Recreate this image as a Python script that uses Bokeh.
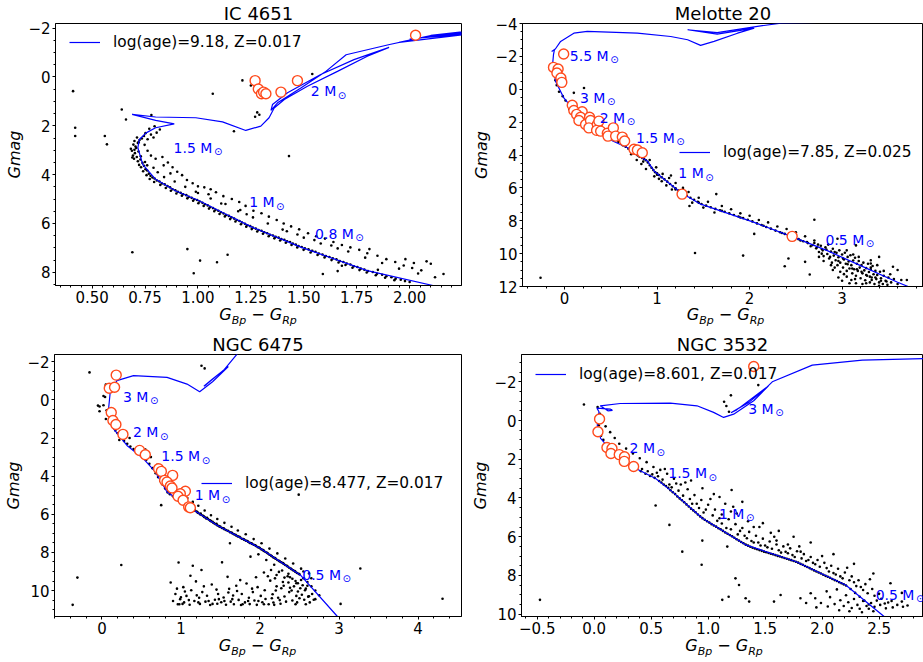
from bokeh.plotting import figure
from bokeh.models import (Range1d, FixedTicker, Legend, LegendItem, Div,
                          ColumnDataSource, CustomJSTickFormatter)
from bokeh.layouts import row, column
from bokeh.embed import file_html
from bokeh.resources import INLINE
from bokeh.core.properties import value

FONT = "DejaVu Sans"

# ------------------------------------------------------------------ IC 4651
ic4651_title = "IC 4651"
ic4651_legend = "log(age)=9.18, Z=0.017"
ic4651_xticks = [0.50, 0.75, 1.00, 1.25, 1.50, 1.75, 2.00]
ic4651_yticks = [-2, 0, 2, 4, 6, 8]
ic4651_iso = [(2.16, 8.70), (2.11, 8.54), (1.80, 7.93), (1.486, 6.97), (1.258, 6.16), (1.116, 5.55),
              (1.006, 5.07), (0.896, 4.67), (0.80, 4.19), (0.739, 3.58), (0.716, 2.90), (0.723, 2.56),
              (0.755, 2.29), (0.80, 2.08), (0.888, 1.92), (0.80, 1.78), (0.689, 1.53), (0.80, 1.64),
              (0.99, 1.67), (1.116, 1.84), (1.226, 2.19), (1.297, 2.01), (1.336, 1.67), (1.36, 1.27),
              (1.408, 0.92), (1.517, 0.38), (1.659, -0.23), (1.80, -0.85), (1.903, -1.21), (1.737, -0.71),
              (1.58, -0.10), (1.423, 0.65), (1.352, 1.13), (1.345, 1.37), (1.376, 1.06), (1.486, 0.45),
              (1.60, -0.20), (1.70, -0.91), (1.90, -1.32), (2.05, -1.60), (2.30, -1.78), (1.95, -1.42),
              (2.10, -1.70), (2.30, -1.90), (2.00, -1.55), (2.30, -1.84)]
ic4651_red = [(1.270, 0.15), (1.285, 0.49), (1.300, 0.69), (1.310, 0.62), (1.321, 0.69),
              (1.392, 0.62), (1.470, 0.15), (2.028, -1.71)]
ic4651_mass = [("2 M", 1.533, 0.58), ("1.5 M", 0.885, 2.90), ("1 M", 1.242, 5.14), ("0.8 M", 1.553, 6.43)]
ic4651_stars = [
    (0.700, 2.62), (0.712, 2.48), (0.695, 2.77), (0.708, 2.91), (0.688, 3.02), (0.702, 3.12), (0.716, 2.70),
    (0.724, 2.58), (0.693, 3.22), (0.711, 3.28), (0.705, 2.85), (0.719, 3.05), (0.728, 3.38), (0.716, 3.45),
    (0.735, 2.52), (0.683, 2.94), (0.698, 3.35), (0.722, 3.60), (0.738, 3.52), (0.731, 3.70), (0.745, 3.64),
    (0.752, 3.78), (0.741, 3.86), (0.760, 3.83), (0.768, 3.96), (0.757, 4.02), (0.776, 4.05), (0.785, 4.12),
    (0.772, 4.18), (0.795, 4.16), (0.806, 4.24), (0.793, 4.30), (0.818, 4.28), (0.830, 4.36), (0.822, 4.42),
    (0.843, 4.40), (0.856, 4.47), (0.848, 4.55), (0.868, 4.52), (0.880, 4.60), (0.872, 4.66), (0.893, 4.64),
    (0.905, 4.70), (0.898, 4.77), (0.918, 4.74), (0.930, 4.80), (0.924, 4.86), (0.945, 4.84), (0.957, 4.91),
    (0.950, 4.97), (0.970, 4.95), (0.983, 5.01), (0.977, 5.07), (0.996, 5.04), (1.008, 5.10), (1.002, 5.17),
    (1.021, 5.15), (1.033, 5.21), (1.027, 5.28), (1.046, 5.26), (1.058, 5.33), (1.052, 5.39), (1.071, 5.37),
    (1.083, 5.44), (1.077, 5.50), (1.096, 5.48), (1.108, 5.54), (1.102, 5.61), (1.121, 5.59), (1.133, 5.65),
    (1.127, 5.71), (1.146, 5.69), (1.158, 5.75), (1.152, 5.82), (1.171, 5.80), (1.183, 5.86), (1.177, 5.92),
    (1.196, 5.90), (1.208, 5.96), (1.203, 6.03), (1.222, 6.01), (1.234, 6.07), (1.228, 6.13), (1.247, 6.11),
    (1.259, 6.17), (1.254, 6.23), (1.273, 6.21), (1.286, 6.27), (1.280, 6.33), (1.300, 6.30), (1.313, 6.36),
    (1.307, 6.42), (1.327, 6.40), (1.340, 6.46), (1.334, 6.52), (1.354, 6.49), (1.367, 6.55), (1.361, 6.61),
    (1.381, 6.58), (1.394, 6.64), (1.388, 6.70), (1.408, 6.67), (1.421, 6.73), (1.415, 6.79), (1.435, 6.76),
    (1.448, 6.82), (1.442, 6.88), (1.462, 6.86), (1.475, 6.92), (1.469, 6.98), (1.490, 6.96), (1.505, 7.02),
    (1.499, 7.08), (1.522, 7.06), (1.538, 7.13), (1.532, 7.19), (1.555, 7.16), (1.571, 7.23), (1.565, 7.29),
    (1.588, 7.27), (1.604, 7.33), (1.598, 7.39), (1.621, 7.37), (1.637, 7.43), (1.631, 7.50), (1.654, 7.47),
    (1.670, 7.54), (1.664, 7.60), (1.687, 7.58), (1.703, 7.64), (1.697, 7.70), (1.720, 7.68), (1.736, 7.75),
    (1.730, 7.81), (1.753, 7.78), (1.769, 7.85), (1.763, 7.91), (1.786, 7.89), (1.803, 7.95), (1.797, 8.01),
    (1.826, 7.99), (1.846, 8.06), (1.840, 8.12), (1.870, 8.10), (1.890, 8.16), (1.884, 8.22), (1.914, 8.20),
    (1.934, 8.26), (1.928, 8.32), (1.958, 8.30), (1.978, 8.36), (2.000, 8.40),
    (0.745, 2.42), (0.762, 2.55), (0.778, 2.36), (0.790, 2.48), (0.805, 2.28), (0.820, 2.15), (0.795, 2.02),
    (0.770, 2.12), (0.752, 2.30), (0.748, 2.78), (0.762, 3.02), (0.778, 3.22), (0.800, 3.35), (0.832, 3.28),
    (0.858, 3.50), (0.838, 3.62), (0.880, 3.70), (0.902, 3.88), (0.870, 3.95), (0.925, 4.02), (0.948, 4.22),
    (0.975, 4.35), (1.000, 4.48), (1.030, 4.52), (1.060, 4.60), (1.085, 4.72), (1.050, 4.80), (1.120, 4.88),
    (1.160, 5.00), (1.195, 5.12), (1.225, 5.28), (1.200, 5.45), (1.262, 5.48), (1.300, 5.58), (1.335, 5.72),
    (1.372, 5.86), (1.405, 6.00), (1.440, 6.12), (1.478, 6.24), (1.520, 6.40), (1.558, 6.52), (1.600, 6.62),
    (1.640, 6.76), (1.680, 6.88), (1.720, 6.98), (1.762, 7.08), (1.800, 7.22), (1.848, 7.32), (1.890, 7.46),
    (1.932, 7.58), (1.972, 7.72), (2.012, 7.82), (2.055, 7.92), (1.420, 6.32), (1.500, 6.58), (1.580, 6.82),
    (1.660, 7.02), (1.230, 5.62), (1.110, 5.18), (0.990, 4.70),
    (0.72, 2.68), (0.70, 2.98), (0.69, 3.30), (0.73, 3.25), (0.75, 3.48), (0.76, 3.62), (0.79, 3.72),
    (0.81, 3.90), (0.84, 4.10), (0.89, 4.28), (0.94, 4.50), (1.00, 4.75), (1.06, 4.98), (1.13, 5.20),
    (1.19, 5.50), (1.26, 5.75), (1.33, 6.00), (1.40, 6.25), (1.47, 6.45), (1.55, 6.68), (1.63, 6.90),
    (1.71, 7.15), (1.79, 7.40), (1.87, 7.62), (1.95, 7.85), (2.04, 8.05), (2.12, 8.20),
    (0.41, 0.58), (0.42, 2.08), (0.42, 2.42), (0.56, 2.42), (0.57, 2.76), (0.64, 1.33), (0.66, 1.74),
    (0.69, 7.18), (0.95, 7.05), (0.98, 8.04), (1.01, 7.52), (1.09, 7.59), (1.14, 7.28), (1.17, 2.22),
    (1.21, 0.14), (1.27, 1.63), (1.29, 1.55), (1.43, 3.24), (1.54, -0.12), (1.54, 7.12), (1.59, 8.07),
    (1.68, 7.73), (1.66, 7.95), (1.81, 7.05), (1.85, 7.90), (1.98, 7.46), (2.02, 7.62), (2.08, 7.55),
    (2.10, 7.65), (2.16, 8.07), (1.07, 0.69), (0.78, 1.56), (1.25, 0.35), (1.28, 1.45),
]

# ------------------------------------------------------------------ Melotte 20
mel20_title = "Melotte 20"
mel20_legend = "log(age)=7.85, Z=0.025"
mel20_xticks = [0, 1, 2, 3]
mel20_yticks = [-4, -2, 0, 2, 4, 6, 8, 10, 12]
mel20_iso = [(3.80, 12.2), (3.60, 11.74), (3.20, 10.73), (2.84, 9.82), (2.48, 9.01), (2.05, 8.10),
             (1.472, 6.99), (1.255, 6.28), (0.966, 4.97), (0.895, 4.36), (0.77, 3.96), (0.68, 3.56),
             (0.52, 3.15), (0.30, 2.20), (0.065, 1.03), (-0.008, 0.53), (-0.097, -0.48), (-0.13, -1.50),
             (-0.12, -2.10), (-0.11, -2.40), (-0.14, -2.30), (-0.10, -2.45), (-0.043, -2.91), (0.10, -3.41),
             (0.245, -3.52), (0.787, -3.41), (1.147, -3.21), (1.33, -3.01), (1.47, -2.67), (1.616, -2.91),
             (1.87, -3.41), (2.05, -3.72), (1.65, -3.35), (1.33, -3.62), (1.65, -3.45), (2.05, -3.80),
             (2.34, -4.02), (3.0, -4.10)]
mel20_red = [(-0.01, -2.14), (-0.12, -1.33), (-0.07, -1.23), (-0.083, -0.99), (-0.04, -0.68), (-0.03, -0.42),
             (0.083, 0.97), (0.10, 1.29), (0.19, 1.37), (0.13, 1.53), (0.173, 1.70), (0.27, 1.70),
             (0.155, 1.90), (0.227, 2.14), (0.28, 1.90), (0.263, 2.35), (0.354, 2.14), (0.371, 1.94),
             (0.346, 2.50), (0.39, 2.55), (0.462, 2.68), (0.527, 2.35), (0.469, 2.85), (0.552, 2.85),
             (0.624, 2.91), (0.649, 3.15), (0.75, 3.65), (0.787, 3.70), (0.84, 3.86), (1.27, 6.38),
             (2.46, 8.95)]
mel20_mass = [("5.5 M", 0.057, -2.04), ("3 M", 0.166, 0.53), ("2 M", 0.38, 1.74),
              ("1.5 M", 0.772, 2.95), ("1 M", 1.23, 5.11), ("0.5 M", 2.82, 9.17)]
mel20_stars = [
    (-0.10, -0.55), (-0.085, -0.25), (-0.06, 0.15), (-0.02, 0.42), (0.01, 0.68), (0.04, 0.88), (0.10, 0.22),
    (0.21, -0.08), (0.05, 1.22), (0.09, 1.45), (0.30, 1.55), (0.45, 2.45), (0.40, 2.75), (0.58, 3.20),
    (0.62, 3.30), (0.63, 3.40), (0.66, 3.50), (0.69, 3.62), (0.71, 3.75), (0.74, 3.85), (0.76, 3.92),
    (0.79, 4.02), (0.81, 4.10), (0.84, 4.18), (0.86, 4.25), (0.88, 4.32), (0.90, 4.45), (0.92, 4.62),
    (0.94, 4.78), (0.96, 4.92), (0.98, 5.05), (1.00, 5.12), (1.02, 5.22), (1.05, 5.35), (1.08, 5.48),
    (1.11, 5.62), (1.14, 5.76), (1.17, 5.90), (1.20, 6.03), (1.23, 6.16), (1.26, 6.30), (1.29, 6.40),
    (1.32, 6.48), (1.36, 6.60), (1.40, 6.72), (1.44, 6.84), (1.48, 6.98), (1.53, 7.08), (1.58, 7.18),
    (1.63, 7.28), (1.68, 7.36), (1.73, 7.46), (1.78, 7.55), (1.83, 7.65), (1.88, 7.74), (1.93, 7.84),
    (1.98, 7.94), (2.03, 8.04), (2.08, 8.16), (2.13, 8.26), (2.18, 8.38), (2.23, 8.48), (2.28, 8.60),
    (2.33, 8.70), (2.38, 8.80), (2.43, 8.92), (2.48, 9.02), (2.53, 9.12), (2.58, 9.25), (2.63, 9.36),
    (2.68, 9.48), (2.73, 9.60), (2.78, 9.72),
    (0.72, 3.95), (0.78, 4.30), (0.83, 4.55), (0.88, 4.85), (0.92, 4.30), (0.99, 4.75), (1.02, 5.45),
    (1.06, 5.15), (1.10, 5.85), (1.13, 5.40), (1.16, 6.10), (1.20, 5.70), (1.25, 6.50), (1.28, 6.00),
    (1.34, 6.25), (1.38, 6.90), (1.45, 6.60), (1.50, 7.20), (1.55, 6.85), (1.62, 7.50), (1.70, 7.10),
    (1.80, 7.30), (1.90, 7.55), (2.00, 7.70), (2.10, 7.95), (2.20, 8.10), (2.30, 8.35), (2.40, 8.50),
    (2.50, 8.70), (2.60, 8.95), (2.70, 9.20), (1.35, 7.10), (1.05, 5.60), (1.15, 5.25), (0.97, 5.30),
    (2.70, 9.35), (2.72, 9.68), (2.75, 9.90), (2.77, 9.52), (2.79, 9.80), (2.80, 10.15), (2.82, 9.62),
    (2.84, 10.02), (2.85, 9.45), (2.86, 10.30), (2.88, 9.88), (2.89, 10.55), (2.90, 9.70), (2.91, 10.12),
    (2.93, 10.40), (2.94, 9.95), (2.95, 10.70), (2.96, 10.22), (2.97, 9.80), (2.98, 10.55), (3.00, 10.05),
    (3.01, 10.85), (3.02, 10.35), (3.03, 9.95), (3.04, 10.62), (3.05, 11.05), (3.06, 10.20), (3.07, 10.48),
    (3.08, 10.90), (3.09, 10.10), (3.10, 10.70), (3.11, 11.20), (3.12, 10.42), (3.13, 10.95), (3.14, 10.25),
    (3.15, 11.35), (3.16, 10.62), (3.17, 11.05), (3.18, 10.45), (3.19, 10.85), (3.20, 11.50), (3.21, 10.70),
    (3.22, 11.20), (3.23, 10.55), (3.24, 11.02), (3.25, 11.62), (3.26, 10.88), (3.27, 11.35), (3.28, 10.62),
    (3.29, 11.12), (3.30, 11.75), (3.31, 10.95), (3.32, 11.45), (3.33, 10.75), (3.34, 11.25), (3.35, 11.85),
    (3.36, 11.05), (3.37, 11.55), (3.38, 11.30), (3.40, 11.75), (3.41, 11.10), (3.42, 11.50), (3.44, 11.85),
    (3.45, 11.35), (3.47, 11.65), (3.49, 11.90), (3.50, 11.45), (3.53, 11.75), (3.56, 11.55), (3.60, 11.85),
    (3.64, 11.60), (3.05, 9.80), (3.12, 10.05), (3.18, 10.20), (3.31, 10.40), (3.31, 10.60), (3.31, 10.85),
    (3.32, 11.60), (2.92, 10.85), (2.98, 11.10), (3.05, 11.40), (3.10, 11.60), (2.88, 10.70), (3.00, 11.65),
    (3.15, 11.80), (3.22, 11.85), (2.80, 10.45), (2.75, 10.20), (3.45, 11.05), (3.52, 11.25), (3.38, 10.70),
    (2.45, 8.95), (2.55, 9.20), (2.62, 9.30), (2.66, 9.55), (2.74, 9.45), (2.78, 10.00), (2.83, 9.75),
    (2.87, 10.20), (2.92, 9.90), (2.96, 10.45), (3.01, 10.30), (3.06, 10.65), (3.11, 10.90), (3.16, 10.95),
    (3.21, 11.10), (3.26, 11.30), (3.30, 11.40), (3.36, 11.45), (3.42, 11.65), (3.48, 11.70), (3.02, 11.25),
    (3.14, 11.55), (3.26, 11.80), (3.40, 11.95), (2.90, 11.00), (2.96, 11.45), (3.08, 11.80), (1.90, 7.80),
    (2.15, 8.30), (2.35, 8.75), (1.20, 6.10), (1.00, 5.20), (0.85, 4.40), (1.45, 6.90), (1.70, 7.40),
    (-0.26, 11.47), (1.41, 9.96), (1.93, 10.12), (2.38, 10.77), (2.65, 11.27), (2.70, 7.94), (1.64, 6.38),
    (2.42, 10.30), (3.60, 11.00), (3.70, 11.60), (3.55, 10.80), (3.15, 9.50), (3.40, 10.20), (2.95, 9.10),
    (2.05, 8.80), (2.60, 10.50),
]

# ------------------------------------------------------------------ NGC 6475
n6475_title = "NGC 6475"
n6475_legend = "log(age)=8.477, Z=0.017"
n6475_xticks = [0, 1, 2, 3, 4]
n6475_yticks = [-2, 0, 2, 4, 6, 8, 10]
n6475_iso = [(3.05, 11.6), (2.98, 11.36), (2.51, 9.18), (2.006, 7.79), (1.457, 6.57), (1.161, 5.78),
             (0.824, 4.83), (0.676, 3.78), (0.527, 3.09), (0.317, 2.39), (0.147, 1.52), (0.084, 0.48),
             (0.105, -0.40), (0.19, -1.01), (0.40, -1.27), (0.824, -1.18), (1.077, -0.83), (1.237, -0.43),
             (1.40, -0.95), (1.60, -1.75), (1.40, -1.10), (1.29, -0.72), (1.32, -0.80), (1.55, -1.60),
             (1.72, -2.45)]
n6475_red = [(0.181, -1.30), (0.093, -0.61), (0.16, -0.66), (0.118, 0.66), (0.139, 1.08), (0.177, 1.29),
             (0.266, 1.81), (0.477, 2.65), (0.549, 2.88), (0.717, 3.61), (0.752, 3.75), (0.895, 3.96),
             (0.793, 4.22), (0.824, 4.31), (0.866, 4.52), (0.887, 4.62), (1.056, 4.79), (0.992, 4.92),
             (0.963, 5.05), (1.027, 5.26), (1.098, 5.61), (1.119, 5.66)]
n6475_mass = [("3 M", 0.266, -0.17), ("2 M", 0.393, 1.69), ("1.5 M", 0.752, 2.95),
              ("1 M", 1.174, 5.0), ("0.5 M", 2.535, 9.18)]
n6475_stars = [
    (0.05, -0.75), (0.07, -0.45), (0.04, -0.15), (0.02, 0.28), (-0.03, 0.35), (0.06, 0.55), (0.09, 0.85),
    (0.11, 1.12), (0.14, 1.38), (0.17, 1.60), (0.20, 1.75), (0.24, 1.95), (0.28, 2.15), (0.32, 2.30),
    (0.36, 2.45), (0.40, 2.58), (0.44, 2.72), (0.48, 2.85), (0.52, 3.00), (0.56, 3.15), (0.60, 3.35),
    (0.64, 3.58), (0.68, 3.85), (0.71, 4.05), (0.74, 4.25), (0.77, 4.45), (0.80, 4.65), (0.83, 4.85),
    (0.86, 4.95), (0.90, 5.05), (0.94, 5.15), (0.98, 5.28), (1.02, 5.40), (1.06, 5.50), (1.10, 5.62),
    (1.14, 5.72), (1.18, 5.82), (1.22, 5.93), (1.26, 6.04), (1.30, 6.15), (1.34, 6.25), (1.38, 6.36),
    (1.42, 6.47), (1.46, 6.58), (1.50, 6.66), (1.55, 6.78), (1.60, 6.88), (1.65, 7.00), (1.70, 7.11),
    (1.75, 7.22), (1.80, 7.33), (1.85, 7.44), (1.90, 7.55), (1.95, 7.66), (2.00, 7.78), (2.05, 7.92),
    (2.10, 8.06), (2.15, 8.20), (2.20, 8.33), (2.25, 8.47), (2.30, 8.60), (2.35, 8.74), (2.40, 8.88),
    (2.45, 9.02), (2.50, 9.15), (2.55, 9.35), (2.60, 9.55), (2.65, 9.78), (2.70, 10.00),
    (1.12, 5.68), (1.16, 5.80), (1.20, 5.86), (1.24, 6.00), (1.28, 6.08), (1.32, 6.22), (1.36, 6.30),
    (1.40, 6.40), (1.44, 6.52), (1.48, 6.62), (1.52, 6.72), (1.57, 6.82), (1.62, 6.94), (1.67, 7.05),
    (1.72, 7.16), (1.77, 7.28), (1.82, 7.38), (1.87, 7.50), (1.92, 7.60), (1.97, 7.72), (2.02, 7.84),
    (2.07, 7.98), (2.12, 8.12), (2.17, 8.26), (2.22, 8.40), (2.27, 8.52), (2.32, 8.66), (2.37, 8.80),
    (2.42, 8.94), (2.47, 9.08),
    (1.05, 5.45), (1.09, 5.58), (1.13, 5.64), (1.17, 5.76), (1.21, 5.90), (1.25, 5.96), (1.29, 6.12),
    (1.33, 6.18), (1.37, 6.33), (1.41, 6.44), (1.45, 6.50), (1.49, 6.64), (1.54, 6.74), (1.59, 6.86),
    (1.64, 6.96), (1.69, 7.08), (1.74, 7.18), (1.79, 7.30), (1.84, 7.40), (1.89, 7.52), (1.94, 7.62),
    (1.99, 7.74), (2.04, 7.88), (2.09, 8.02), (2.14, 8.16), (2.19, 8.30), (2.24, 8.44), (2.29, 8.56),
    (2.34, 8.70), (2.39, 8.84), (2.44, 8.98), (2.49, 9.12), (2.28, 8.95), (2.18, 8.65), (2.08, 8.40),
    (1.98, 8.10), (2.38, 9.30), (2.48, 9.62), (2.58, 9.90),
    (0.90, 4.60), (1.00, 4.90), (1.08, 5.15), (1.15, 5.35), (1.22, 5.55), (1.30, 5.80), (1.38, 6.05),
    (1.46, 6.25), (1.55, 6.45), (1.64, 6.65), (1.72, 6.85), (1.82, 7.05), (1.92, 7.30), (2.02, 7.52),
    (2.12, 7.80), (2.22, 8.05), (2.32, 8.32), (2.42, 8.58), (2.52, 8.85), (2.62, 9.10), (2.55, 9.00),
    (2.65, 9.35), (2.45, 9.50), (2.35, 9.25),
    (0.93, 10.18), (0.96, 10.72), (0.99, 10.45), (1.03, 9.82), (1.04, 10.62), (1.07, 10.28), (1.11, 10.74),
    (1.13, 9.98), (1.17, 10.55), (1.19, 9.52), (1.23, 10.38), (1.24, 10.70), (1.27, 10.08), (1.31, 10.58),
    (1.33, 10.27), (1.37, 10.76), (1.39, 9.68), (1.43, 10.48), (1.46, 10.69), (1.47, 10.18), (1.51, 10.61),
    (1.54, 10.36), (1.57, 10.74), (1.61, 9.91), (1.63, 10.58), (1.66, 10.26), (1.67, 10.72), (1.71, 10.02),
    (1.73, 10.49), (1.76, 10.76), (1.77, 10.18), (1.81, 10.62), (1.83, 9.63), (1.86, 10.38), (1.87, 10.71),
    (1.91, 10.08), (1.93, 10.52), (1.96, 10.75), (1.97, 9.82), (2.01, 10.28), (2.03, 10.61), (2.06, 9.98),
    (2.07, 10.44), (2.11, 10.72), (2.13, 9.48), (2.16, 10.19), (2.17, 10.63), (2.21, 9.78), (2.23, 10.38),
    (2.26, 10.69), (2.27, 9.88), (2.31, 10.31), (2.33, 10.58), (2.36, 9.58), (2.37, 10.08), (2.41, 10.52),
    (2.43, 9.78), (2.46, 10.28), (2.47, 10.62), (2.51, 9.88), (2.53, 10.22), (2.56, 10.48), (2.57, 9.98),
    (2.61, 10.32), (2.63, 10.62), (2.66, 10.18), (2.68, 10.48), (2.21, 9.18), (2.31, 9.32), (2.24, 9.02),
    (2.14, 8.92), (2.36, 9.12), (2.41, 9.38), (2.46, 9.62), (2.54, 9.72), (2.29, 9.55), (2.19, 9.36),
    (1.29, 9.78), (1.12, 9.22), (0.87, 9.58), (1.26, 8.92), (1.59, 9.28), (1.52, 8.52), (1.88, 8.22),
    (1.62, 7.52), (2.05, 9.05), (1.95, 9.30), (1.75, 9.45), (1.70, 9.75), (1.45, 9.95), (1.05, 10.05),
    (0.90, 10.55), (2.38, 9.85), (2.52, 9.45), (2.60, 9.75), (2.48, 10.05), (2.70, 10.45), (2.75, 10.25),
    (2.58, 10.72), (2.18, 10.75), (1.98, 10.55), (1.48, 10.45), (1.20, 10.25), (1.02, 10.70),
    (2.40, 10.00), (2.30, 9.75), (2.20, 10.00), (2.10, 9.25), (1.00, 10.35), (1.10, 10.50), (1.22, 10.62),
    (1.35, 10.55), (1.55, 10.55), (1.65, 10.45), (1.85, 10.55), (2.05, 10.72), (2.25, 10.50), (2.45, 10.72),
    (2.62, 10.30), (0.98, 10.72), (1.40, 10.70), (1.78, 10.72), (2.15, 10.40), (2.50, 10.40), (0.95, 9.90),
    (1.60, 10.10), (1.90, 9.90),
    (-0.37, 10.75), (-0.31, 9.32), (0.245, 8.66), (-0.157, -1.44), (1.26, -1.79), (1.30, -1.65),
    (4.31, 10.43), (3.27, 8.84), (3.02, 10.7), (2.49, 4.97), (0.75, 5.52), (0.97, 8.53), (1.15, 8.7),
    (0.05, -0.80), (0.08, -0.60), (0.02, -0.20), (-0.05, 0.30), (-0.03, 0.60), (0.05, 1.00), (0.22, 2.10),
    (0.35, 2.00), (0.20, 1.30), (0.55, 2.60), (0.62, 3.00), (0.70, 3.40), (0.78, 3.70),
]

# ------------------------------------------------------------------ NGC 3532
n3532_title = "NGC 3532"
n3532_legend = "log(age)=8.601, Z=0.017"
n3532_xticks = [-0.5, 0.0, 0.5, 1.0, 1.5, 2.0, 2.5]
n3532_yticks = [-2, 0, 2, 4, 6, 8, 10]
n3532_iso = [(2.60, 10.4), (2.544, 10.12), (2.207, 8.49), (1.768, 7.28), (1.329, 6.42), (0.949, 5.05),
             (0.685, 3.67), (0.539, 2.99), (0.305, 2.30), (0.158, 1.61), (0.056, 0.92), (0.027, 0.23),
             (0.042, -0.45), (0.024, -0.64), (0.141, -0.59), (0.16, -0.52), (0.12, -0.50), (0.053, -0.76),
             (0.229, -0.88), (0.668, -0.90), (0.902, -0.76), (1.048, -0.42), (1.136, -0.16), (1.224, -0.33),
             (1.40, -1.02), (1.53, -1.79), (1.36, -0.95), (1.20, -0.40), (1.25, -0.55), (1.52, -1.75),
             (1.563, -2.0), (1.914, -2.86), (2.353, -3.12), (2.95, -3.21)]
n3532_red = [(1.40, -2.79), (0.047, -0.08), (0.033, 0.58), (0.112, 1.39), (0.156, 1.44), (0.147, 1.70),
             (0.22, 1.76), (0.266, 1.87), (0.264, 2.11), (0.346, 2.37)]
n3532_mass = [("3 M", 1.352, -0.61), ("2 M", 0.31, 1.44), ("1.5 M", 0.65, 2.73),
              ("1 M", 1.095, 4.82), ("0.5 M", 2.47, 9.0)]
n3532_stars = [
    (0.03, -0.70), (0.05, -0.35), (0.02, -0.05), (0.04, 0.25), (0.03, 0.50), (0.06, 0.78), (0.08, 1.00),
    (0.11, 1.22), (0.14, 1.42), (0.17, 1.60), (0.21, 1.78), (0.25, 1.98), (0.29, 2.18), (0.33, 2.35),
    (0.37, 2.48), (0.41, 2.62), (0.45, 2.75), (0.49, 2.86), (0.53, 2.96), (0.57, 3.12), (0.61, 3.30),
    (0.65, 3.48), (0.69, 3.70), (0.73, 3.92), (0.77, 4.12), (0.81, 4.33), (0.85, 4.55), (0.89, 4.74),
    (0.93, 4.95), (0.97, 5.12), (1.01, 5.27), (1.05, 5.42), (1.09, 5.56), (1.13, 5.70), (1.17, 5.85),
    (1.21, 5.98), (1.25, 6.13), (1.29, 6.27), (1.33, 6.41), (1.37, 6.52), (1.41, 6.61), (1.45, 6.69),
    (1.49, 6.77), (1.53, 6.84), (1.57, 6.91), (1.61, 6.99), (1.65, 7.06), (1.69, 7.14), (1.73, 7.21),
    (1.77, 7.29), (1.81, 7.40), (1.85, 7.51), (1.89, 7.62), (1.93, 7.74), (1.97, 7.85), (2.01, 7.96),
    (2.05, 8.07), (2.09, 8.18), (2.13, 8.29), (2.17, 8.40), (2.21, 8.52), (2.25, 8.70), (2.29, 8.90),
    (2.33, 9.10), (2.37, 9.30), (2.41, 9.50),
    (0.59, 3.20), (0.63, 3.38), (0.67, 3.60), (0.71, 3.80), (0.75, 4.02), (0.79, 4.22), (0.83, 4.44),
    (0.87, 4.64), (0.91, 4.85), (0.95, 5.04), (0.99, 5.20), (1.03, 5.35), (1.07, 5.48), (1.11, 5.62),
    (1.15, 5.78), (1.19, 5.91), (1.23, 6.05), (1.27, 6.20), (1.31, 6.34), (1.35, 6.46), (1.39, 6.57),
    (1.43, 6.65), (1.47, 6.73), (1.51, 6.80), (1.55, 6.88), (1.59, 6.95), (1.63, 7.02), (1.67, 7.10),
    (1.71, 7.18), (1.75, 7.25), (1.79, 7.34), (1.83, 7.45), (1.87, 7.56), (1.91, 7.68), (1.95, 7.80),
    (1.99, 7.90), (2.03, 8.02), (2.07, 8.12), (2.11, 8.24), (2.15, 8.35), (2.19, 8.46),
    (0.10, 0.30), (0.14, 0.60), (0.18, 0.90), (0.22, 1.20), (0.28, 1.45), (0.34, 1.70), (0.40, 1.95),
    (0.46, 2.15), (0.52, 2.40), (0.58, 2.55), (0.64, 2.75), (0.70, 3.00), (0.76, 3.30), (0.82, 3.55),
    (0.88, 3.85), (0.94, 4.10), (1.00, 4.35), (1.06, 4.60), (1.12, 4.85), (1.18, 5.10), (1.24, 5.35),
    (1.30, 5.55), (1.36, 5.75), (1.42, 5.95), (1.48, 6.10), (1.54, 6.25), (1.60, 6.40), (1.66, 6.50),
    (1.72, 6.60), (1.78, 6.75), (1.84, 6.90), (1.90, 7.05), (1.96, 7.20), (2.02, 7.35), (2.08, 7.50),
    (2.14, 7.65), (2.20, 7.85), (2.26, 8.05), (2.32, 8.25), (2.38, 8.45), (2.44, 8.70), (2.50, 8.95),
    (0.55, 2.70), (0.72, 3.25), (0.90, 4.30), (1.10, 5.05), (1.32, 5.95), (1.50, 6.45), (1.70, 6.85),
    (1.92, 7.35), (2.12, 7.95), (2.30, 8.55), (0.62, 2.50), (0.80, 3.20), (1.02, 4.05), (1.20, 4.70),
    (1.40, 5.50), (1.58, 6.00), (1.80, 6.50), (2.00, 7.00), (2.22, 7.60), (2.42, 8.20),
    (0.42, 2.50), (0.47, 2.62), (0.51, 2.78), (0.56, 2.88), (0.60, 3.05), (0.66, 3.30), (0.68, 3.45),
    (0.74, 3.62), (0.78, 3.88), (0.84, 4.05), (0.86, 4.30), (0.92, 4.52), (0.96, 4.75), (0.98, 4.60),
    (1.04, 4.90), (1.08, 5.18), (1.12, 5.32), (1.16, 5.55), (1.20, 5.62), (1.26, 5.88), (1.28, 5.70),
    (1.34, 6.08), (1.38, 6.22), (1.44, 6.30), (1.46, 6.45), (1.52, 6.55), (1.56, 6.62), (1.62, 6.70),
    (1.64, 6.82), (1.68, 6.78), (1.74, 6.95), (1.76, 7.05), (1.82, 7.12), (1.86, 7.25), (1.88, 7.20),
    (1.94, 7.42), (1.98, 7.55), (2.04, 7.62), (2.06, 7.80), (2.10, 7.88), (2.16, 8.05), (2.18, 8.15),
    (2.24, 8.25), (2.28, 8.35), (2.34, 8.60), (2.36, 8.75), (2.40, 8.92), (2.46, 9.05), (2.52, 9.20),
    (2.58, 9.40), (1.10, 3.95), (1.22, 4.45), (1.30, 4.20), (1.48, 5.30), (1.62, 5.70), (1.75, 6.00),
    (1.90, 6.30), (2.10, 6.90), (2.28, 7.40), (2.45, 7.90), (2.60, 8.40), (2.70, 8.90), (0.85, 3.10),
    (0.95, 3.50),
    (1.90, 8.92), (1.94, 9.18), (1.99, 9.42), (2.04, 8.82), (2.07, 9.12), (2.11, 9.48), (2.13, 8.72),
    (2.16, 9.28), (2.19, 9.58), (2.21, 9.02), (2.23, 9.38), (2.26, 9.68), (2.28, 9.22), (2.31, 9.52),
    (2.33, 9.72), (2.36, 9.32), (2.39, 9.58), (2.41, 9.72), (2.43, 9.42), (2.46, 9.62), (2.48, 9.30),
    (2.51, 9.52), (2.56, 9.70), (2.61, 9.32), (2.66, 9.52), (2.71, 9.62), (1.86, 9.42), (1.81, 9.18),
    (2.24, 9.85), (2.35, 9.90), (2.45, 9.85), (2.55, 9.45), (2.62, 9.65), (2.70, 9.35), (2.75, 9.55),
    (2.05, 9.60), (2.15, 9.80), (1.95, 9.65),
    (-0.476, 9.26), (-0.09, -0.83), (0.539, 4.39), (0.66, 5.39), (0.949, 6.2), (0.773, 6.77),
    (0.943, 7.45), (1.168, 6.51), (1.206, 3.59), (1.124, 9.26), (1.18, 9.1), (1.271, 8.49), (1.329, 9.18),
    (1.36, 9.35), (1.24, 8.15), (1.578, 9.35), (1.636, 9.01), (1.812, 6.77), (1.14, -0.97), (1.16, -0.75),
    (1.183, -0.45), (1.20, -1.3), (1.44, -1.83), (1.05, 3.8), (1.15, 4.3), (1.25, 4.8), (1.35, 5.2),
    (1.45, 5.5), (1.55, 5.8), (1.40, 6.3), (1.60, 6.2), (1.70, 6.4),
]


def tick_fmt(dig):
    return CustomJSTickFormatter(code=(
        "const s = Math.abs(tick).toFixed(%d); return (tick < -1e-9 ? '\\u2212' : '') + s;" % dig))


EM = {"0": .636, "1": .636, "2": .636, "3": .636, "4": .636, "5": .636, "6": .636,
      "7": .636, "8": .636, "9": .636, ".": .318, " ": .318, "M": .863}


def panel(title, legend_text, iso, stars, red, mass, xr, yr, xticks, xminor, xdig,
          yticks, borders, width, height, legend_loc, label_shift):
    bl, br, bt, bb = borders
    p = figure(width=width, height=height, output_backend="svg", toolbar_location=None,
               x_range=Range1d(*xr), y_range=Range1d(*yr),
               min_border_left=bl, min_border_right=br, min_border_top=bt, min_border_bottom=bb,
               background_fill_color="white", border_fill_color="white")
    p.title.text = title
    p.title.align = "center"
    p.title.text_font = FONT
    p.title.text_font_size = "18px"
    p.title.text_font_style = "normal"
    p.title.text_color = "black"
    p.title.standoff = 0
    p.xgrid.visible = False
    p.ygrid.visible = False
    p.outline_line_color = "black"
    p.outline_line_alpha = 1
    p.outline_line_width = 1

    yminor = [v / 2 for v in range(int(min(yr) * 2) - 1, int(max(yr) * 2) + 2)]
    p.xaxis.ticker = FixedTicker(ticks=xticks, minor_ticks=xminor)
    p.yaxis.ticker = FixedTicker(ticks=yticks, minor_ticks=yminor)
    p.xaxis.formatter = tick_fmt(xdig)
    p.yaxis.formatter = tick_fmt(0)
    for ax in (p.xaxis[0], p.yaxis[0]):
        ax.major_tick_out = 3
        ax.major_tick_in = 0
        ax.minor_tick_out = 2
        ax.minor_tick_in = 0
        ax.major_label_text_font = FONT
        ax.major_label_text_font_size = "15px"
        ax.major_label_text_color = "black"
        ax.major_label_standoff = 2
        ax.axis_line_color = "black"
        ax.major_tick_line_color = "black"
        ax.minor_tick_line_color = "black"
    p.yaxis.axis_label = "Gmag"
    p.yaxis.axis_label_text_font = FONT
    p.yaxis.axis_label_text_font_size = "16px"
    p.yaxis.axis_label_text_font_style = "italic"
    p.yaxis.axis_label_text_color = "black"
    p.yaxis.axis_label_standoff = 1

    sx, sy = zip(*stars)
    p.scatter(list(sx), list(sy), marker="circle", size=2.6, fill_color="black",
              line_color=None)
    ix, iy = zip(*iso)
    iso_r = p.line(list(ix), list(iy), line_color="blue", line_width=1.2)
    rx, ry = zip(*red)
    p.scatter(list(rx), list(ry), marker="circle", size=10, fill_color="white",
              line_color="#ff4a1c", line_width=1.4)

    mtxt = [m[0] for m in mass]
    msrc = ColumnDataSource(dict(
        x=[m[1] for m in mass], y=[m[2] for m in mass], t=mtxt,
        sun=["\u2299"] * len(mass),
        off=[sum(EM[c] for c in t) * 14 + 1.5 for t in mtxt]))
    p.text(x="x", y="y", text="t", source=msrc, text_font=value(FONT),
           text_font_size=value("14px"), text_color="blue", text_baseline="middle",
           text_align="left")
    p.text(x="x", y="y", text="sun", source=msrc, x_offset="off", y_offset=4,
           text_font=value(FONT), text_font_size=value("10px"), text_color="blue",
           text_baseline="middle", text_align="left")

    legend = Legend(items=[LegendItem(label=legend_text, renderers=[iso_r])],
                    location=legend_loc, padding=0, margin=0, glyph_width=31,
                    glyph_height=20, label_height=20, label_standoff=13, spacing=0,
                    label_text_font=FONT, label_text_font_size="15.4px",
                    label_text_color="black", background_fill_alpha=0,
                    border_line_alpha=0)
    p.add_layout(legend)

    frame_w = width - bl - br
    html = ('<div style="margin-left:%dpx; width:%dpx; text-align:center; white-space:nowrap; '
            'font-family:\'DejaVu Sans\'; font-size:16px; line-height:12px; color:black;">'
            '<i>G</i><i style="font-size:11px; position:relative; top:4px;">Bp</i>'
            ' \u2212 '
            '<i>G</i><i style="font-size:11px; position:relative; top:4px;">Rp</i></div>'
            % (bl + label_shift, frame_w))
    xlab = Div(text=html, width=width, height=331 - height, margin=0)
    return column(p, xlab, spacing=0)


def minor(a, b, step):
    n = int(round((b - a) / step))
    return [round(a + i * step, 4) for i in range(n + 1)]


p1 = panel(ic4651_title, ic4651_legend, ic4651_iso, ic4651_stars, ic4651_red, ic4651_mass,
           (0.327, 2.245), (8.54, -2.19), ic4651_xticks, minor(0.30, 2.25, 0.05), 2,
           ic4651_yticks, (55, 1, 22, 23), 462, 308, (14, 233), 0)
p2 = panel(mel20_title, mel20_legend, mel20_iso, mel20_stars, mel20_red, mel20_mass,
           (-0.455, 3.88), (12.0, -4.0), mel20_xticks, minor(-0.4, 3.8, 0.2), 0,
           mel20_yticks, (60, 0, 22, 22), 461, 308, (157, 124), 3)
p3 = panel(n6475_title, n6475_legend, n6475_iso, n6475_stars, n6475_red, n6475_mass,
           (-0.60, 4.55), (11.36, -2.38), n6475_xticks, minor(-0.6, 4.6, 0.2), 0,
           n6475_yticks, (54, 1, 22, 23), 462, 308, (147, 123), 0)
p4 = panel(n3532_title, n3532_legend, n3532_iso, n3532_stars, n3532_red, n3532_mass,
           (-0.638, 2.89), (10.12, -3.41), n3532_xticks, minor(-0.6, 2.9, 0.1), 1,
           n3532_yticks, (59, 0, 23, 23), 461, 308, (14, 232), 2)

layout = column(row(p1, p2, spacing=0), row(p3, p4, spacing=0), spacing=0)
open("out.html", "w").write(file_html(layout, INLINE))
